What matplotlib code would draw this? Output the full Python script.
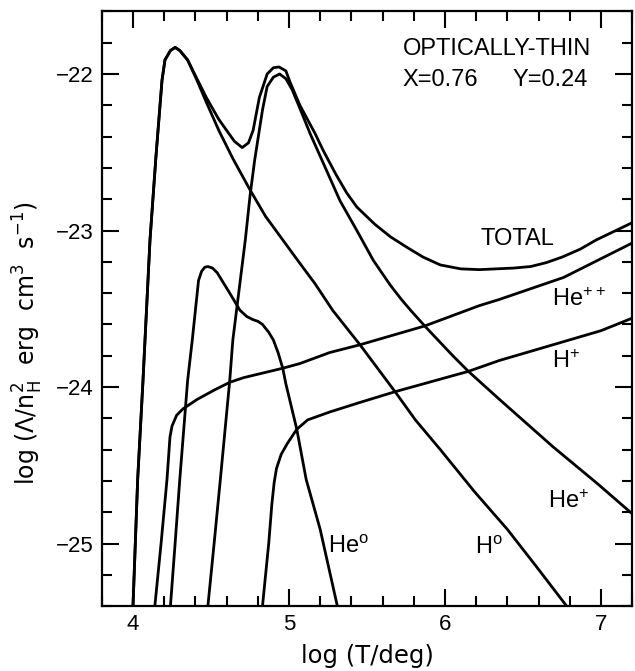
import matplotlib
matplotlib.use('Agg')
import matplotlib.pyplot as plt
from matplotlib.ticker import MultipleLocator

plt.rcParams['font.family'] = ['Liberation Sans', 'DejaVu Sans']
plt.rcParams['mathtext.default'] = 'regular'

# curves: log T, log Lambda/n_H^2
h0_x = [4.00, 4.03, 4.064, 4.077, 4.109, 4.147, 4.17, 4.186, 4.205, 4.24, 4.27,
        4.30, 4.35, 4.41, 4.47, 4.55, 4.64, 4.75, 4.85, 4.96, 5.07, 5.167,
        5.28, 5.455, 5.68, 5.81, 5.97, 6.19, 6.40, 6.58, 6.78]
h0_y = [-25.40, -24.59, -23.96, -23.70, -23.06, -22.53, -22.24, -22.04, -21.91, -21.85, -21.83,
        -21.85, -21.91, -22.04, -22.18, -22.36, -22.54, -22.74, -22.91, -23.06, -23.21, -23.34,
        -23.51, -23.73, -24.03, -24.21, -24.40, -24.67, -24.91, -25.14, -25.40]

total_x = [4.00, 4.03, 4.064, 4.077, 4.109, 4.147, 4.17, 4.186, 4.205, 4.24, 4.27,
           4.30, 4.35, 4.41, 4.47, 4.55, 4.60, 4.65, 4.70, 4.74, 4.77, 4.81, 4.86,
           4.90, 4.936, 4.98, 5.006, 5.07, 5.167, 5.22, 5.30, 5.37, 5.435, 5.55, 5.65,
           5.76, 5.86, 5.97, 6.10, 6.22, 6.44, 6.55, 6.65, 6.75, 6.865, 6.97, 7.20]
total_y = [-25.40, -24.59, -23.96, -23.70, -23.06, -22.53, -22.24, -22.04, -21.91, -21.85, -21.83,
           -21.85, -21.91, -22.03, -22.15, -22.29, -22.36, -22.43, -22.47, -22.44, -22.36, -22.15, -22.00,
           -21.96, -21.955, -21.98, -22.05, -22.20, -22.38, -22.49, -22.64, -22.76, -22.85, -22.96, -23.04,
           -23.11, -23.17, -23.22, -23.245, -23.25, -23.24, -23.23, -23.205, -23.17, -23.12, -23.06, -22.95]

he0_x = [4.24, 4.27, 4.30, 4.35, 4.38, 4.42, 4.44, 4.46, 4.48, 4.51, 4.54, 4.62,
         4.686, 4.73, 4.77, 4.80, 4.83, 4.87, 4.90, 4.93, 4.96, 4.98, 5.05, 5.11,
         5.20, 5.31]
he0_y = [-25.40, -25.00, -24.59, -23.96, -23.70, -23.32, -23.26, -23.235, -23.23, -23.24, -23.27, -23.40,
         -23.51, -23.55, -23.57, -23.58, -23.60, -23.65, -23.70, -23.78, -23.88, -23.98, -24.27, -24.59,
         -24.91, -25.40]

hep_x = [4.48, 4.52, 4.56, 4.62, 4.64, 4.68, 4.72, 4.75, 4.78, 4.83, 4.86, 4.90,
         4.94, 4.98, 5.02, 5.07, 5.135, 5.22, 5.327, 5.435, 5.54, 5.65, 5.72, 5.78, 5.87,
         5.955, 6.05, 6.15, 6.35, 6.52, 6.69, 6.98, 7.20]
hep_y = [-25.40, -25.00, -24.59, -23.96, -23.70, -23.38, -23.06, -22.78, -22.55, -22.23, -22.08, -22.02,
         -22.00, -22.03, -22.10, -22.22, -22.38, -22.57, -22.81, -23.00, -23.19, -23.35, -23.44, -23.51, -23.61,
         -23.70, -23.80, -23.90, -24.08, -24.23, -24.38, -24.62, -24.81]

hepp_x = [4.14, 4.18, 4.218, 4.237, 4.25, 4.28, 4.32, 4.41, 4.52, 4.62, 4.71, 4.96,
          5.07, 5.26, 5.455, 5.87, 6.22, 6.35, 6.76, 7.20]
hepp_y = [-25.40, -25.00, -24.59, -24.32, -24.25, -24.18, -24.14, -24.08, -24.02, -23.97, -23.94, -23.88,
          -23.85, -23.78, -23.73, -23.61, -23.48, -23.44, -23.30, -23.08]

hp_x = [4.83, 4.87, 4.89, 4.905, 4.92, 4.95, 4.99, 5.05, 5.12, 5.26, 5.45, 5.68,
        6.15, 6.35, 6.59, 7.00, 7.20]
hp_y = [-25.40, -25.00, -24.75, -24.61, -24.52, -24.43, -24.36, -24.27, -24.21, -24.16, -24.10, -24.03,
        -23.90, -23.83, -23.76, -23.64, -23.56]

fig = plt.figure(figsize=(6.35, 6.71), dpi=100)
ax = fig.add_axes([0.1603, 0.0967, 0.8353, 0.8863])

for xs, ys in [(h0_x, h0_y), (total_x, total_y), (he0_x, he0_y),
               (hep_x, hep_y), (hepp_x, hepp_y), (hp_x, hp_y)]:
    ax.plot(xs, ys, color='black', lw=2.0, solid_joinstyle='round')

ax.set_xlim(3.8, 7.2)
ax.set_ylim(-25.4, -21.6)
ax.xaxis.set_major_locator(MultipleLocator(1))
ax.xaxis.set_minor_locator(MultipleLocator(0.2))
ax.yaxis.set_major_locator(MultipleLocator(1))
ax.yaxis.set_minor_locator(MultipleLocator(0.2))
ax.tick_params(which='both', direction='in', top=True, right=True, width=1.5)
ax.tick_params(which='major', length=12, pad=6, labelsize=16)
ax.tick_params(which='minor', length=7)
for s in ax.spines.values():
    s.set_linewidth(1.6)

ax.set_xlabel('log (T/deg)', fontsize=17.5, family='DejaVu Sans', labelpad=6)
ax.set_ylabel(r'log ($\Lambda$/n$_H^2$  erg  cm$^3$  s$^{-1}$)', fontsize=17,
              family='DejaVu Sans')
ax.yaxis.set_label_coords(-0.107, 0.442)

txt = dict(fontsize=17, ha='left', va='baseline')
ax.text(5.73, -21.88, 'OPTICALLY-THIN', **txt)
ax.text(5.73, -22.077, 'X=0.76', **txt)
ax.text(6.43, -22.077, 'Y=0.24', **txt)
ax.text(6.225, -23.09, 'TOTAL', **txt)
ax.text(6.686, -23.48, r'He$^{++}$', **txt)
ax.text(6.686, -23.88, r'H$^{+}$', **txt)
ax.text(6.66, -24.77, r'He$^{+}$', **txt)
ax.text(6.19, -25.07, r'H$^{o}$', **txt)
ax.text(5.25, -25.06, r'He$^{o}$', **txt)

fig.savefig('out.png', dpi=100)
